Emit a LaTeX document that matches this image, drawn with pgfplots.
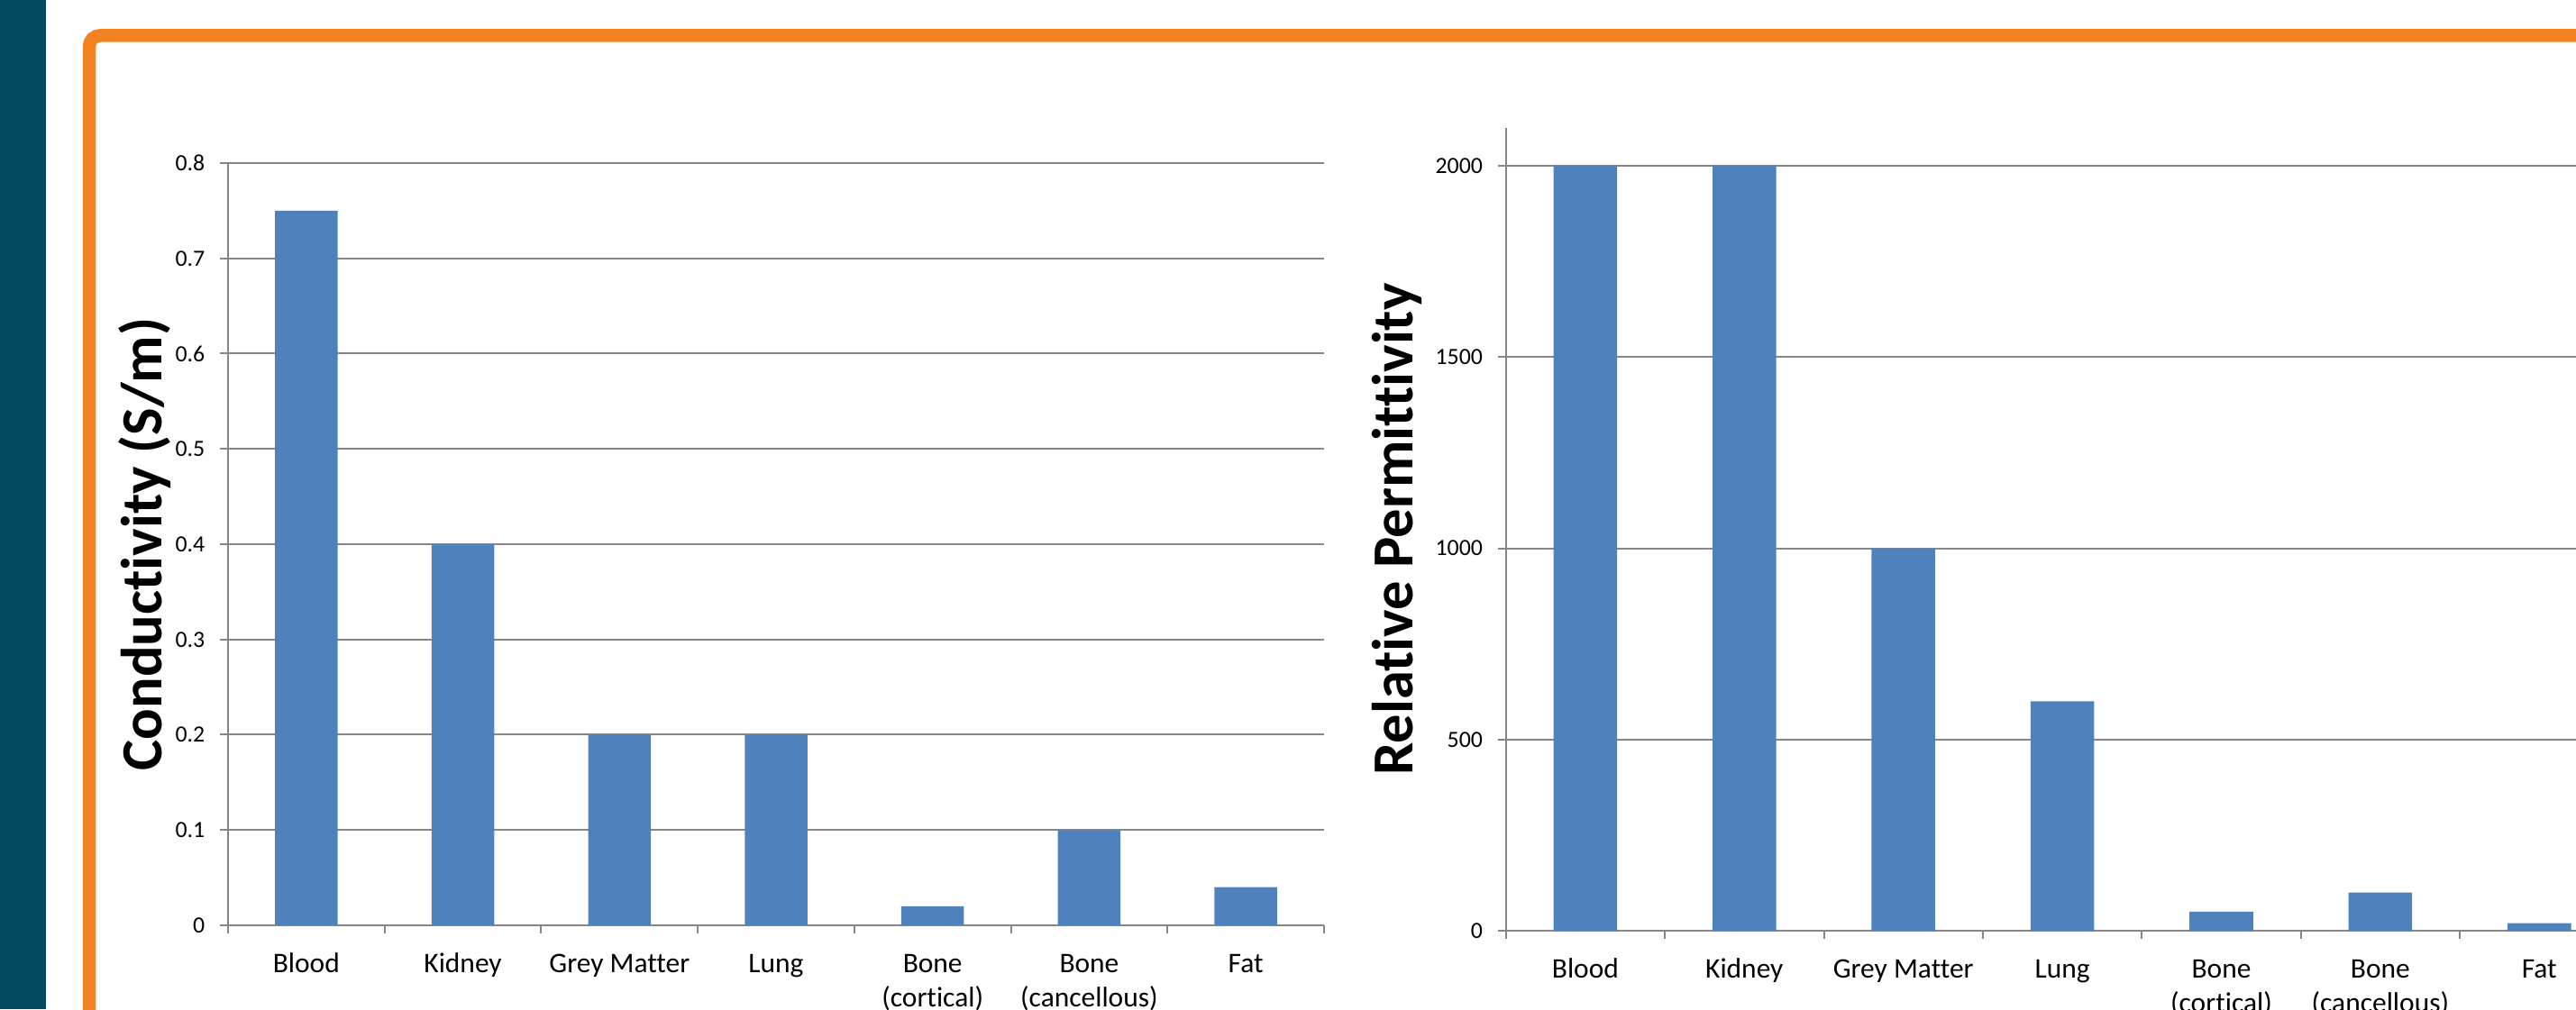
\documentclass[border=0pt]{standalone}
\usepackage{fontspec}
\setmainfont{Carlito}[Ligatures=NoCommon]
\usepackage{pgfplots}
\pgfplotsset{compat=1.18}

\definecolor{barblue}{RGB}{79,129,189}
\definecolor{gridgray}{RGB}{134,134,134}
\definecolor{posterteal}{RGB}{0,73,94}
\definecolor{posterorange}{RGB}{245,130,32}

% shared look of the two Excel-style bar charts
% (every category label has two lines, so their baselines line up)
\pgfplotsset{
  tissuebars/.style={
    scale only axis,
    axis x line*=bottom, axis y line*=left,
    axis line style={gridgray, line width=0.02cm},
    ymajorgrids, grid style={gridgray, line width=0.02cm},
    xmin=-0.5, xmax=6.5, ymin=0,
    xtick={-0.5,0.5,1.5,2.5,3.5,4.5,5.5,6.5},
    xticklabels={{},{},{},{},{},{},{},{}},
    extra x ticks={0,1,2,3,4,5,6},
    extra x tick labels={Blood\\\mbox{},Kidney\\\mbox{},Grey Matter\\\mbox{},Lung\\\mbox{},
      Bone\\(cortical),Bone\\(cancellous),Fat\\\mbox{}},
    extra x tick style={major tick length=0pt},
    tick align=outside, major tick length=0.09cm,
    tick style={gridgray, line width=0.02cm},
    xticklabel style={font=\fontsize{8.95}{10.8}\selectfont, align=center,
      anchor=base, inner sep=0pt, yshift=-0.90cm},
    yticklabel style={font=\fontsize{7.35}{9}\selectfont, anchor=east,
      inner sep=0pt, xshift=-0.16cm},
    ylabel style={font=\fontsize{18.35}{22}\selectfont\bfseries,
      at={(rel axis cs:0,0.5)}, anchor=base},
    /pgf/number format/assume math mode=true,
    /pgf/number format/1000 sep={},
    scaled y ticks=false,
  },
}

\begin{document}
\begin{tikzpicture}
\useasboundingbox (0,0) rectangle (28.58,11.20);
\clip (0,0) rectangle (28.58,11.20);
\fill[posterteal] (0,0) rectangle (0.505,11.20);
\draw[posterorange, line width=0.145cm, rounded corners=0.12cm]
  (0.99,-1) -- (0.99,10.805) -- (30,10.805);

\begin{axis}[tissuebars,
    at={(2.53cm,0.93cm)}, anchor=south west,
    width=12.16cm, height=8.46cm,
    ymax=0.8,
    ytick={0,0.1,0.2,0.3,0.4,0.5,0.6,0.7,0.8},
    ylabel={Conductivity (S/m)},
    ylabel style={yshift=0.73cm},
]
\addplot[ybar, bar width=0.4, fill=barblue, draw=none]
  coordinates {(0,0.75) (1,0.4) (2,0.2) (3,0.2) (4,0.02) (5,0.1) (6,0.04)};
\end{axis}

\begin{axis}[tissuebars,
    at={(16.707cm,0.87cm)}, anchor=south west,
    width=12.348cm, height=8.913cm,
    ymax=2100,
    ytick={0,500,1000,1500,2000},
    ylabel={Relative Permittivity},
    ylabel style={yshift=1.037cm},
]
\addplot[ybar, bar width=0.4, fill=barblue, draw=none]
  coordinates {(0,2000) (1,2000) (2,1000) (3,600) (4,50) (5,100) (6,20)};
\end{axis}
\end{tikzpicture}
\end{document}
